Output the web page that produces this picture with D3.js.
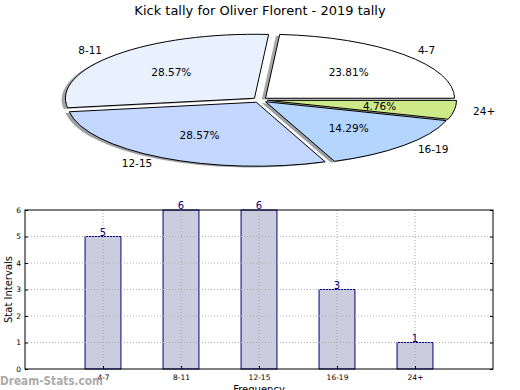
<!DOCTYPE html>
<html lang="en">
<head>
  <meta charset="utf-8">
  <title>Kick tally</title>
  <script src="https://d3js.org/d3.v7.min.js"></script>
  <style>
    body { margin: 0; background: #fff; }
    text { font-family: "DejaVu Sans", sans-serif; }
  </style>
</head>
<body>
<script>
// data
var categories = ["4-7", "8-11", "12-15", "16-19", "24+"];
var counts = [5, 6, 6, 3, 1];
var yTicks = [0, 1, 2, 3, 4, 5, 6];
var sliceColors = ["#ffffff", "#eaf1fe", "#c4d7fe", "#b4d5fe", "#cde98a"];

var W = 520, H = 390;
var svg = d3.select("body").append("svg")
    .attr("width", W).attr("height", H);

svg.append("text")
    .attr("x", 260).attr("y", 15)
    .attr("text-anchor", "middle")
    .attr("font-size", 13)
    .text("Kick tally for Oliver Florent - 2019 tally");

// ---- pie (stretched ellipse like matplotlib) ----
var cx = 260, cy = 100, rx = 189, ry = 64, explode = 0.04;
var total = d3.sum(counts);

var pie = d3.pie().sort(null)
    .startAngle(Math.PI / 2)
    .endAngle(Math.PI / 2 - 2 * Math.PI);
var arcs = pie(counts);
var arc = d3.arc().innerRadius(0).outerRadius(1);

function dir(d) {
  var a = (d.startAngle + d.endAngle) / 2;
  return [Math.sin(a), -Math.cos(a)];
}
function pos(d, r) {
  var u = dir(d);
  return [cx + (r + explode) * rx * u[0], cy + (r + explode) * ry * u[1]];
}

var pieG = svg.append("g");
// shadows first (below every wedge)
pieG.selectAll("path.shadow")
  .data(arcs).enter().append("path")
    .attr("class", "shadow")
    .attr("d", arc)
    .attr("transform", function(d) {
      var p = pos(d, 0);
      return "translate(" + (p[0] - 0.02 * rx) + "," + (p[1] + 0.02 * ry) + ") scale(" + rx + "," + ry + ")";
    })
    .attr("fill", function(d, i) {
      var c = d3.rgb(sliceColors[i]);
      return d3.rgb(c.r * 0.3, c.g * 0.3, c.b * 0.3);
    })
    .attr("fill-opacity", 0.5);

pieG.selectAll("path.wedge")
  .data(arcs).enter().append("path")
    .attr("class", "wedge")
    .attr("d", arc)
    .attr("transform", function(d) {
      var p = pos(d, 0);
      return "translate(" + p[0] + "," + p[1] + ") scale(" + rx + "," + ry + ")";
    })
    .attr("fill", function(d, i) { return sliceColors[i]; })
    .attr("stroke", "#000")
    .attr("stroke-width", 1)
    .attr("vector-effect", "non-scaling-stroke");

pieG.selectAll("text.lbl")
  .data(arcs).enter().append("text")
    .attr("class", "lbl")
    .attr("x", function(d) { return pos(d, 1.1)[0]; })
    .attr("y", function(d) { return pos(d, 1.1)[1]; })
    .attr("dy", "0.35em")
    .attr("text-anchor", function(d) { return dir(d)[0] > 0 ? "start" : "end"; })
    .attr("font-size", 10.5)
    .text(function(d, i) { return categories[i]; });

pieG.selectAll("text.pct")
  .data(arcs).enter().append("text")
    .attr("class", "pct")
    .attr("x", function(d) { return pos(d, 0.6)[0]; })
    .attr("y", function(d) { return pos(d, 0.6)[1]; })
    .attr("dy", "0.35em")
    .attr("text-anchor", "middle")
    .attr("font-size", 10.5)
    .text(function(d) { return (d.value / total * 100).toFixed(2) + "%"; });

// ---- bar chart ----
var pLeft = 25, pRight = 493, pTop = 210, pBottom = 369;
var x = d3.scaleLinear().domain([0, categories.length + 1]).range([pLeft, pRight]);
var y = d3.scaleLinear().domain([0, 6]).range([pBottom, pTop]);
var barW = 0.46;

var g = svg.append("g");

g.selectAll("rect.bar").data(counts).enter().append("rect")
    .attr("x", function(d, i) { return x(i + 1 - barW / 2); })
    .attr("width", x(barW) - x(0))
    .attr("y", function(d) { return y(d); })
    .attr("height", function(d) { return y(0) - y(d); })
    .attr("fill", "#ccccdf")
    .attr("stroke", "#000080")
    .attr("stroke-width", 1);

// dotted grid drawn over the bars
g.selectAll("line.vg").data(categories).enter().append("line")
    .attr("x1", function(d, i) { return x(i + 1); }).attr("x2", function(d, i) { return x(i + 1); })
    .attr("y1", pTop).attr("y2", pBottom)
    .attr("stroke", "#a8a8b0").attr("stroke-dasharray", "1,2");
g.selectAll("line.hg").data(yTicks.slice(1, -1)).enter().append("line")
    .attr("x1", pLeft).attr("x2", pRight)
    .attr("y1", function(d) { return y(d); }).attr("y2", function(d) { return y(d); })
    .attr("stroke", "#b0b0b0").attr("stroke-dasharray", "1,2");

g.selectAll("text.val").data(counts).enter().append("text")
    .attr("x", function(d, i) { return x(i + 1); })
    .attr("y", function(d) { return y(d) - 1; })
    .attr("text-anchor", "middle")
    .attr("font-size", 10)
    .attr("fill", "#000080")
    .text(function(d) { return d; });

// frame
g.append("rect")
    .attr("x", pLeft).attr("y", pTop)
    .attr("width", pRight - pLeft).attr("height", pBottom - pTop)
    .attr("fill", "none").attr("stroke", "#000").attr("stroke-width", 1);

// axes with inward ticks
var yAxis = d3.axisLeft(y).tickValues(yTicks).tickSize(-3).tickPadding(4).tickFormat(d3.format("d"));
var yAxisR = d3.axisRight(y).tickValues(yTicks).tickSize(-3).tickFormat("");
var xAxis = d3.axisBottom(x).tickValues(d3.range(1, categories.length + 1)).tickSize(-3).tickPadding(6)
    .tickFormat(function(d) { return categories[d - 1]; });

function styleAxis(sel) {
  sel.select(".domain").remove();
  sel.selectAll("text").attr("font-size", 7.5).attr("fill", "#000")
     .attr("font-family", "'DejaVu Sans', sans-serif");
  sel.selectAll("line").attr("stroke", "#000");
}
svg.append("g").attr("transform", "translate(" + pLeft + ",0)").call(yAxis).call(styleAxis);
svg.append("g").attr("transform", "translate(" + pRight + ",0)").call(yAxisR).call(styleAxis);
svg.append("g").attr("transform", "translate(0," + pBottom + ")").call(xAxis).call(styleAxis);

svg.append("text")
    .attr("transform", "translate(12," + ((pTop + pBottom) / 2) + ") rotate(-90)")
    .attr("text-anchor", "middle")
    .attr("font-size", 10)
    .text("Stat Intervals");

svg.append("text")
    .attr("x", (pLeft + pRight) / 2).attr("y", 393)
    .attr("text-anchor", "middle")
    .attr("font-size", 10)
    .text("Frequency");

svg.append("text")
    .attr("x", 0).attr("y", 385)
    .attr("font-size", 13)
    .attr("font-weight", "bold")
    .attr("textLength", 103)
    .attr("lengthAdjust", "spacingAndGlyphs")
    .attr("fill", "#a0a0a0")
    .attr("fill-opacity", 0.9)
    .text("Dream-Stats.com");
</script>
</body>
</html>
